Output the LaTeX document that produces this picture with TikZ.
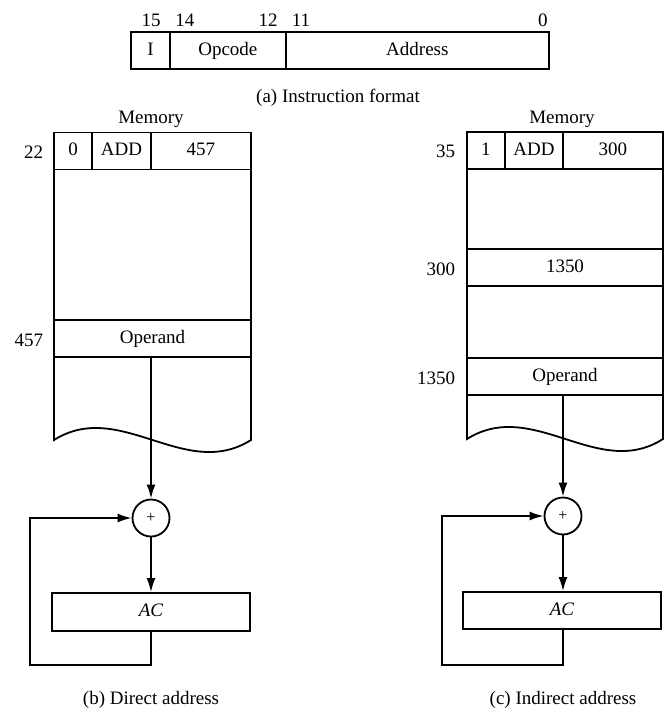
\documentclass[tikz,border=0pt]{standalone}
\usepackage{fontspec}
\setmainfont{Liberation Serif}
\usetikzlibrary{arrows.meta,positioning,calc}

\begin{document}
\begin{tikzpicture}[x=0.5pt,y=-0.5pt,font=\fontsize{9.5}{11}\selectfont,line width=0.9pt,
    cell/.style={draw,line width=0.9pt,minimum height=18.5pt,inner sep=0pt,
                 text height=6.8pt,text depth=2pt},
    addr/.style={anchor=east,inner sep=0pt},
    adder/.style={draw,circle,minimum size=18.5pt,inner sep=0pt,font=\fontsize{8}{9}\selectfont},
    flow/.style={-{Latex[length=7pt,width=4.5pt]}}]
  \useasboundingbox (0,0) rectangle (670,720);

  % (a) instruction format
  \node[cell,minimum width=19.5pt] (ibit) at (150.5,50.5) {I};
  \node[cell,minimum width=57.85pt] (iop) at (227.85,50.5) {Opcode};
  \node[cell,minimum width=131.65pt] (iaddr) at (417.35,50.5) {Address};
  \foreach \b/\x in {15/151,14/185,12/268,11/301,0/543}
    \node (bit\b) at (\x,20.5) {\b};
  \node (capa) at (338,98) {(a) Instruction format};

  % (b) direct address
  \node (mem1) at (151,119) {Memory};
  \draw (54,169) -- (54,440) .. controls (120,398.4) and (185,481.6) .. (251,440) -- (251,169);
  \node[cell,minimum width=19pt] (w22i) at (73,151) {0};
  \node[cell,minimum width=29.5pt] (w22op) at (121.5,151) {ADD};
  \node[cell,minimum width=50pt] (w22ad) at (201,151) {457};
  \node[addr] (a22) at (44,152) {22};
  \node[cell,minimum width=98.5pt] (opd1) at (152.5,338.5) {Operand};
  \node[addr] (a457) at (44,340) {457};
  \node[adder] (sum1) at (151,518) {+};
  \node[cell,minimum width=99pt,minimum height=19pt] (ac1) at (151,612) {\textit{AC}};
  \coordinate (loop1) at (30,665);
  \draw[flow] (opd1.south -| sum1) -- (sum1);
  \draw[flow] (sum1) -- (ac1);
  \draw[flow] (ac1.south -| sum1) |- (loop1) |- (sum1.west);
  \node (capb) at (151,700) {(b) Direct address};

  % (c) indirect address
  \node (mem2) at (562,119) {Memory};
  \draw (467,169) -- (467,439) .. controls (533,397.4) and (598,480.6) .. (663,439) -- (663,169);
  \node[cell,minimum width=19pt] (w35i) at (486,150.5) {1};
  \node[cell,minimum width=29pt] (w35op) at (534,150.5) {ADD};
  \node[cell,minimum width=50pt] (w35ad) at (613,150.5) {300};
  \node[addr] (a35) at (456,151) {35};
  \node[cell,minimum width=98pt] (w300) at (565,267.75) {1350};
  \node[addr] (a300) at (456,269) {300};
  \node[cell,minimum width=98pt] (opd2) at (565,376.5) {Operand};
  \node[addr] (a1350) at (456,378) {1350};
  \node[adder] (sum2) at (563,516) {+};
  \node[cell,minimum width=99pt] (ac2) at (562,610.5) {\textit{AC}};
  \coordinate (loop2) at (442,665);
  \draw[flow] (opd2.south -| sum2) -- (sum2);
  \draw[flow] (sum2) -- (ac2.north -| sum2);
  \draw[flow] (ac2.south -| sum2) |- (loop2) |- (sum2.west);
  \node (capc) at (563,700) {(c) Indirect address};
\end{tikzpicture}
\end{document}
